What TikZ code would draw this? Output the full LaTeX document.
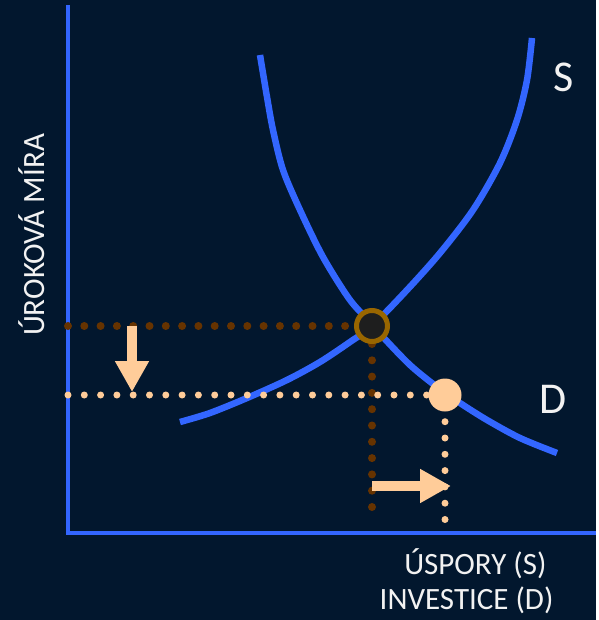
\documentclass[tikz,border=0pt]{standalone}
\usepackage{fontspec}
\setmainfont{Carlito}
\usetikzlibrary{arrows.meta, positioning}
\definecolor{bgnavy}{HTML}{02172E}
\definecolor{curveblue}{HTML}{3366FF}
\definecolor{dotbrown}{HTML}{663300}
\definecolor{ringbrown}{HTML}{996600}
\definecolor{peach}{HTML}{FFCC99}
\definecolor{eqfill}{HTML}{1E1E1E}
\definecolor{labelgray}{HTML}{F2F2F2}
\pgfdeclarelayer{back}
\pgfdeclarelayer{guides}
\pgfsetlayers{back,guides,main}

\begin{document}
\begin{tikzpicture}[x=1pt, y=-1pt,
  axisline/.style={curveblue, line width=4pt},
  curveline/.style={curveblue, line width=6.5pt},
  browndots/.style={dotbrown, line width=8pt, line cap=round, dash pattern=on 0pt off 16.3pt},
  peachdots/.style={peach, line width=7pt, line cap=round, dash pattern=on 0pt off 16.3pt},
  shiftarrow/.style={peach, line width=10.5pt, -{Triangle[width=32pt,length=31pt]}},
  axislabel/.style={labelgray, font=\fontsize{31}{37}\selectfont},
  curvelabel/.style={labelgray, font=\fontsize{44}{52}\selectfont}]
  % Background, axes, curves
  \begin{pgfonlayer}{back}
    \fill[bgnavy] (0,0) rectangle (596,620);
    \coordinate (O) at (68,533);
    \draw[axisline] (68,5) -- (O) -- (596,533);
    \draw[curveline] plot[smooth, tension=0.5] coordinates
      {(180,422) (210,413) (247,398) (287,380) (320,362) (350,342) (372,326)
       (407,290) (440,253) (473,210) (500,163) (517,120) (527,80) (532,38)};
    \draw[curveline] plot[smooth, tension=0.5] coordinates
      {(260,55) (267,97) (273,130) (283,170) (300,210) (323,257) (350,300) (372,324)
       (383,337) (410,365) (437,387) (460,403) (487,420) (520,438) (557,453)};
  \end{pgfonlayer}
  \useasboundingbox (0,0) rectangle (596,620);
  % Points
  \node[circle, draw=ringbrown, line width=5pt, fill=eqfill,
        minimum size=31pt, inner sep=0pt] (eq) at (372,326) {};
  \node[circle, fill=peach, minimum size=33pt, inner sep=0pt] (new) at (445,395) {};
  % Guides
  \begin{pgfonlayer}{guides}
    \draw[browndots] (O |- eq) -- (eq.west);
    \draw[browndots] (eq.south) -- ([yshift=11pt]eq |- O);
    \draw[peachdots] (O |- new) -- (new.west);
    \draw[peachdots, shorten <=10pt] (new.south) -- ([yshift=12pt]new |- O);
  \end{pgfonlayer}
  % Shifts
  \coordinate (downstart) at (132,326);
  \coordinate (downend) at (132,392);
  \coordinate (rightstart) at (372,486);
  \coordinate (rightend) at (451,486);
  \draw[shiftarrow] (downstart) -- (downend);
  \draw[shiftarrow] (rightstart) -- (rightend);
  % Labels
  \node[axislabel, rotate=90, anchor=base] (ratelabel) at (44,235) {ÚROKOVÁ MÍRA};
  \node[axislabel, anchor=base east] (savelabel) at (550,574) {ÚSPORY (S)};
  \node[axislabel, anchor=base east] (investlabel) at (557,609) {INVESTICE (D)};
  \node[curvelabel, anchor=base west] (slabel) at (550,92) {S};
  \node[curvelabel, anchor=base west] (dlabel) at (536,413) {D};
\end{tikzpicture}
\end{document}
